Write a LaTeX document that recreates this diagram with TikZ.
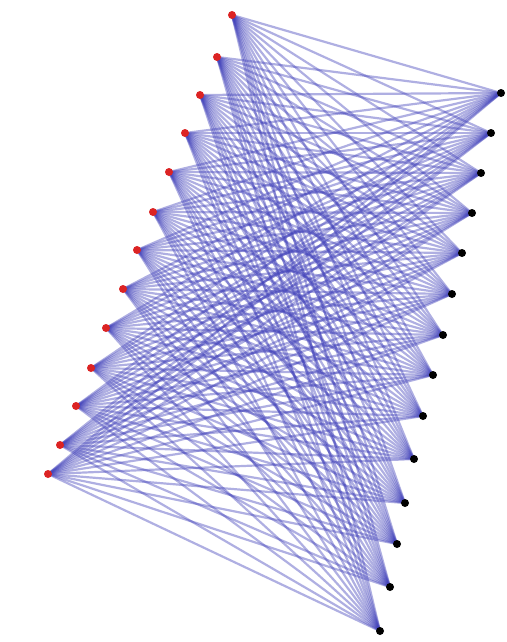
\documentclass[tikz,border=0pt]{standalone}
\usetikzlibrary{backgrounds}
\definecolor{edgeblue}{RGB}{65,65,185}
\definecolor{nodered}{RGB}{220,35,35}
\begin{document}
\begin{tikzpicture}[x=1pt,y=-1pt,
  edge/.style={draw=edgeblue,line width=2.2pt,opacity=0.42},
  rednode/.style={circle,fill=nodered,inner sep=0pt,minimum size=8pt},
  blacknode/.style={circle,fill=black,inner sep=0pt,minimum size=8pt}]
\useasboundingbox (0,0) rectangle (506,642);
\foreach \x/\y [count=\i] in {232/15,217/57,200/95,185/133,169/172,153/212,137/250,123/289,106/328,91/368,76/406,60/445,48/474}
  \node[rednode] (r\i) at (\x,\y) {};
\foreach \x/\y [count=\j] in {501/93,491/133,481/173,472/213,462/253,452/294,443/335,433/375,423/416,414/459,405/503,397/544,390/587,380/631}
  \node[blacknode] (b\j) at (\x,\y) {};
\begin{scope}[on background layer]
\foreach \i in {1,...,13}
  \foreach \j in {1,...,14}
    \draw[edge] (r\i.center) -- (b\j.center);
\end{scope}
\end{tikzpicture}
\end{document}
